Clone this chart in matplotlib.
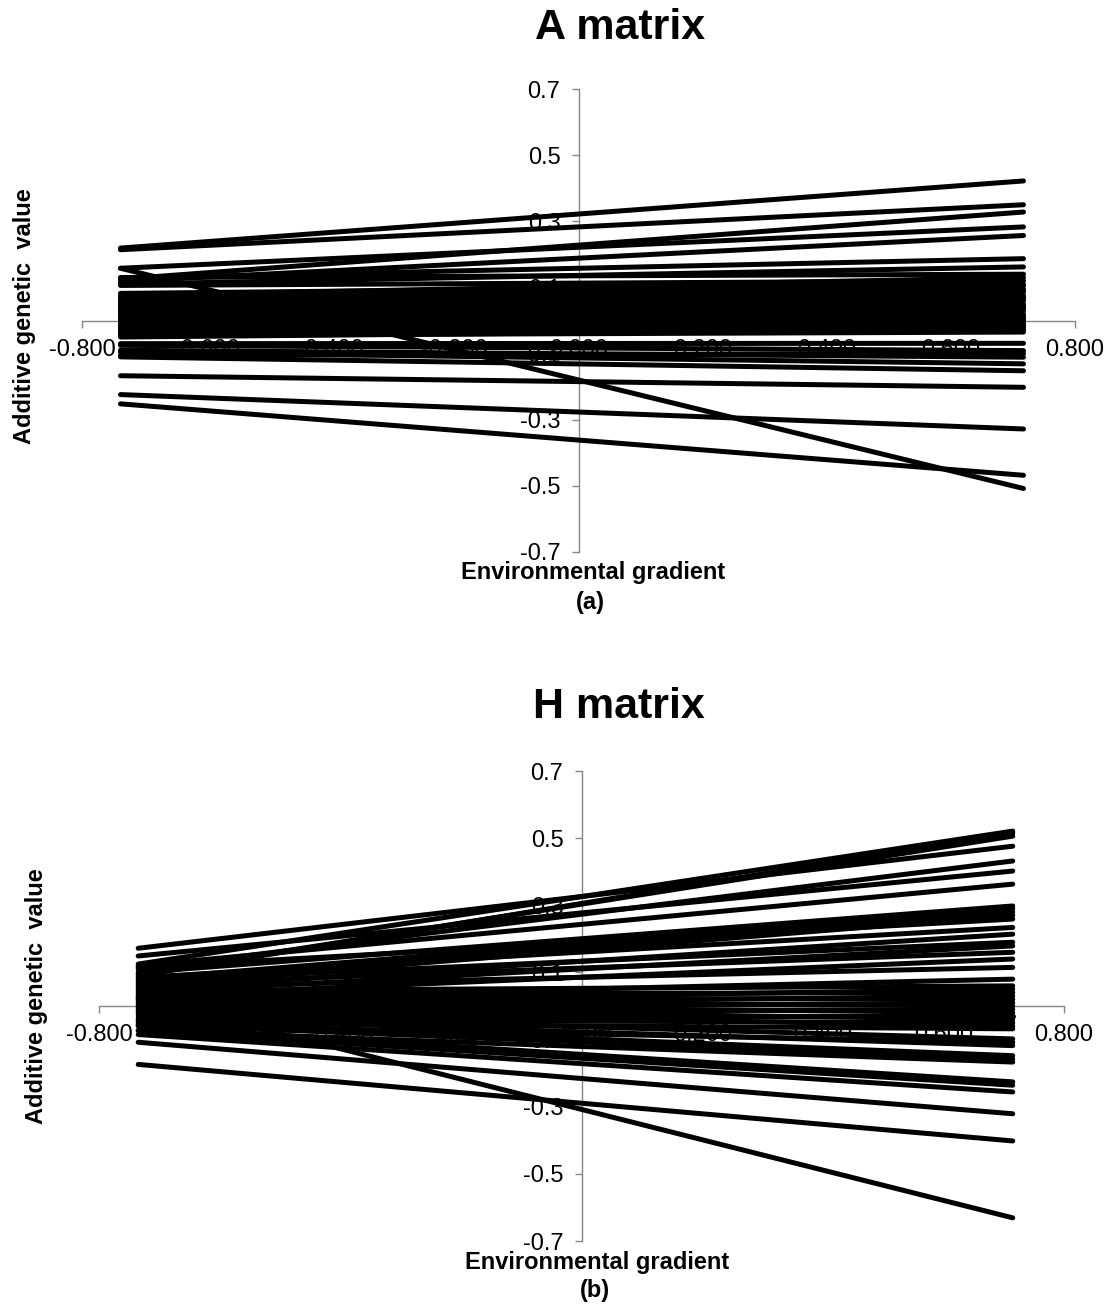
import matplotlib
matplotlib.use("Agg")
import matplotlib.pyplot as plt

plt.rcParams['font.family'] = ['Liberation Sans', 'DejaVu Sans']

# environmental gradient extremes where each reaction norm is evaluated
a_x = [-0.738, 0.717]
h_x = [-0.735, 0.715]

# A matrix: additive genetic value at low / high end of gradient
a_left = [0.219, 0.214, 0.158, 0.158, 0.125, 0.118, 0.128, 0.110, 0.130, 0.106,
          0.082, 0.075, 0.070, 0.065, 0.060, 0.055, 0.050, 0.045, 0.040, 0.035,
          0.030, 0.025, 0.020, 0.015, 0.010, 0.005, 0.000, -0.005, -0.010, -0.015,
          -0.020, -0.025, -0.030, -0.035, -0.040, -0.045, -0.050, -0.070, -0.075,
          -0.090, -0.095, -0.110, -0.105, -0.167, -0.224, -0.252]
a_right = [0.422, 0.350, 0.283, -0.508, 0.328, 0.257, 0.187, 0.162, 0.140, 0.120,
           0.110, 0.130, 0.095, 0.085, 0.105, 0.070, 0.090, 0.060, 0.075, 0.050,
           0.040, 0.065, 0.030, 0.045, 0.020, 0.010, 0.035, 0.000, 0.015, -0.010,
           0.005, -0.020, -0.005, -0.030, -0.015, -0.035, -0.025, -0.069, -0.091,
           -0.111, -0.131, -0.152, -0.100, -0.202, -0.328, -0.468]

# H matrix
h_left = [0.172, 0.149, 0.125, 0.110, 0.120, 0.100, 0.090, 0.095, 0.080, 0.070,
          0.115, 0.060, 0.085, 0.050, 0.075, 0.040, 0.065, 0.030, 0.055, 0.020,
          0.045, 0.010, 0.035, 0.000, 0.025, -0.010, 0.015, -0.020, 0.005, -0.030,
          -0.005, -0.040, -0.015, -0.050, -0.025, -0.058, -0.035, -0.045, -0.055,
          -0.073, -0.060, -0.073, -0.085, -0.108, -0.174, 0.024]
h_right = [0.476, 0.402, 0.521, 0.432, 0.363, 0.298, 0.515, 0.506, 0.290, 0.280,
           0.259, 0.270, 0.234, 0.214, 0.190, 0.179, 0.160, 0.140, 0.115, 0.080,
           0.060, 0.050, 0.040, 0.030, 0.020, 0.010, 0.000, -0.010, -0.020, -0.030,
           -0.040, -0.050, -0.060, -0.068, -0.098, -0.108, -0.118, -0.148, -0.158,
           -0.167, -0.226, -0.236, -0.256, -0.321, -0.402, -0.631]

x_ticks = [-0.8, -0.6, -0.4, -0.2, 0.0, 0.2, 0.4, 0.6, 0.8]
y_ticks = [-0.7, -0.5, -0.3, -0.1, 0.1, 0.3, 0.5, 0.7]

W, H = 1117, 1309
fig = plt.figure(figsize=(W / 100, H / 100), dpi=100)
grey = '#868686'


def panel(rect, xs, left, right):
    ax = fig.add_axes(rect)
    for l, r in zip(left, right):
        ax.plot(xs, [l, r], color='black', lw=3.6, solid_capstyle='round', zorder=3)
    ax.set_xlim(-0.8, 0.8)
    ax.set_ylim(-0.7, 0.7)
    ax.spines['left'].set_position(('data', 0))
    ax.spines['bottom'].set_position(('data', 0))
    for s in ['top', 'right']:
        ax.spines[s].set_visible(False)
    for s in ['left', 'bottom']:
        ax.spines[s].set_color(grey)
        ax.spines[s].set_linewidth(1.0)
    ax.set_xticks(x_ticks)
    ax.set_xticklabels(['%.3f' % v for v in x_ticks])
    ax.set_yticks(y_ticks)
    ax.set_yticklabels(['%.1f' % v for v in y_ticks])
    ax.tick_params(direction='out', length=5, width=1.0, color=grey,
                   labelsize=17, pad=8)
    ax.patch.set_visible(False)
    return ax


panel([82 / W, 1 - 552 / H, (1075 - 82) / W, (552 - 89) / H], a_x, a_left, a_right)
panel([99 / W, 1 - 1241 / H, (1064 - 99) / W, (1241 - 771) / H], h_x, h_left, h_right)

fig.text(620 / W, 1 - 28 / H, 'A matrix', ha='center', va='center',
         fontsize=31, fontweight='bold')
fig.text(619 / W, 1 - 707 / H, 'H matrix', ha='center', va='center',
         fontsize=31, fontweight='bold')

fig.text(593 / W, 1 - 572 / H, 'Environmental gradient', ha='center', va='center',
         fontsize=17, fontweight='bold')
fig.text(590 / W, 1 - 602 / H, '(a)', ha='center', va='center',
         fontsize=17, fontweight='bold')
fig.text(597 / W, 1 - 1262 / H, 'Environmental gradient', ha='center', va='center',
         fontsize=17, fontweight='bold')
fig.text(595 / W, 1 - 1290 / H, '(b)', ha='center', va='center',
         fontsize=17, fontweight='bold')

fig.text(25 / W, 1 - 316 / H, 'Additive genetic  value', ha='center', va='center',
         rotation=90, fontsize=17, fontweight='bold')
fig.text(37 / W, 1 - 996 / H, 'Additive genetic  value', ha='center', va='center',
         rotation=90, fontsize=17, fontweight='bold')

fig.savefig('out.png', dpi=100)
